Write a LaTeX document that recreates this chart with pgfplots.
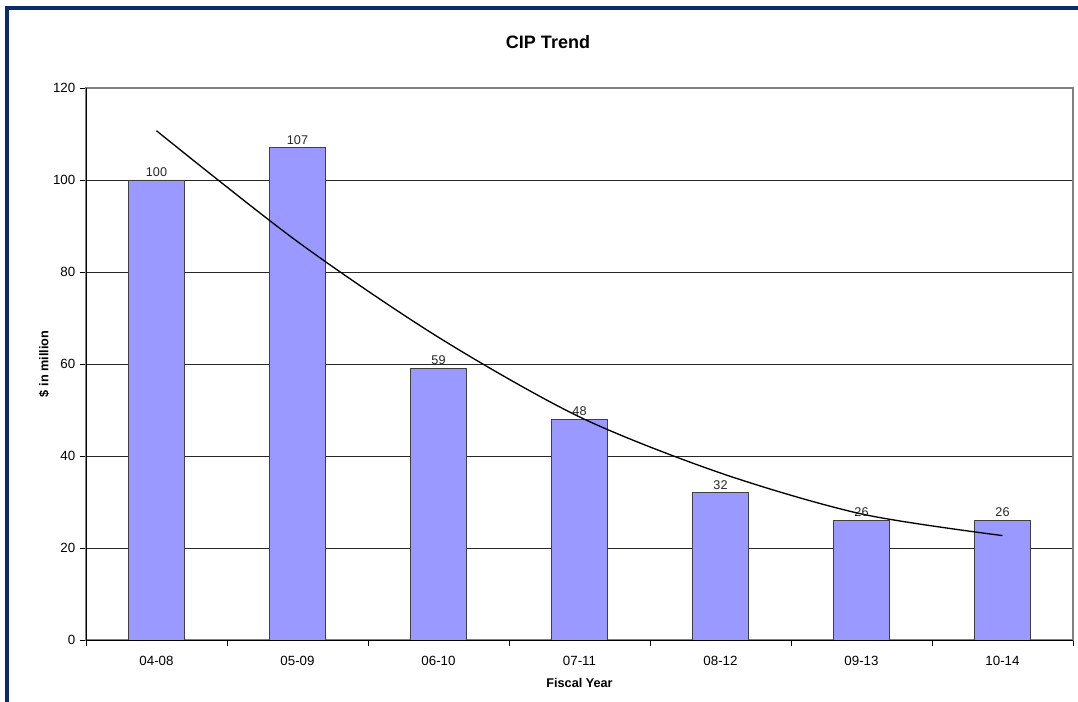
\documentclass[border=0pt]{standalone}
\usepackage{pgfplots}
\pgfplotsset{compat=1.18}
\usepackage{fontspec}
\setmainfont{Liberation Sans}
\definecolor{barfill}{RGB}{153,153,255}
\definecolor{framenavy}{RGB}{12,42,110}
\begin{document}
\begin{tikzpicture}[x=0.75pt,y=0.75pt]
\useasboundingbox (0,0) rectangle (1078,702);
\draw[framenavy, line width=2.4pt] (7,0) -- (7,694) -- (1078,694);
\node[font=\bfseries\fontsize{13.5}{16}\selectfont] at (548,660) {CIP Trend};
\begin{axis}[
    at={(64.5pt,46.5pt)}, anchor=south west,
    scale only axis,
    width=740.25pt,
    height=414pt,
    /pgf/number format/assume math mode=true,
    xmin=-0.5, xmax=6.5,
    ymin=0, ymax=120,
    ytick={0,20,40,60,80,100,120},
    xtick={0,1,2,3,4,5,6},
    xticklabels={04-08,05-09,06-10,07-11,08-12,09-13,10-14},
    minor xtick={-0.5,0.5,1.5,2.5,3.5,4.5,5.5,6.5},
    major x tick style={draw=none},
    tick align=outside,
    xtick pos=bottom, ytick pos=left,
    major tick length=4.5pt,
    minor tick length=4.5pt,
    tick style={black, line width=0.6pt},
    ymajorgrids=true,
    grid style={black!85, line width=0.6pt},
    axis line style={draw=gray, line width=0.8pt},
    ticklabel style={font=\fontsize{10}{12}\selectfont},
    xticklabel style={yshift=-4pt},
    xlabel={Fiscal Year},
    ylabel={\$ in million},
    label style={font=\bfseries\fontsize{9.5}{11}\selectfont},
    xlabel style={yshift=-3pt},
    ylabel style={yshift=-4pt},
    after end axis/.code={
        \draw[black, line width=0.6pt] (rel axis cs:0,1) -- (rel axis cs:0,0) -- (rel axis cs:1,0);
    },
]
\addplot[ybar, bar width=0.4, fill=barfill, draw=black!75, line width=0.6pt,
    nodes near coords,
    every node near coord/.append style={font=\fontsize{9.5}{11}\selectfont, black!85, yshift=-1pt}]
    coordinates {
    (0,100)
    (1,107)
    (2,59)
    (3,48)
    (4,32)
    (5,26)
    (6,26)
    };
\addplot[black, line width=1pt, smooth, mark=none]
    coordinates {
    (0,110.7)
    (1,86.6)
    (2,65.8)
    (3,48.5)
    (4,36.3)
    (5,27.4)
    (6,22.7)
    };
\end{axis}
\end{tikzpicture}
\end{document}
